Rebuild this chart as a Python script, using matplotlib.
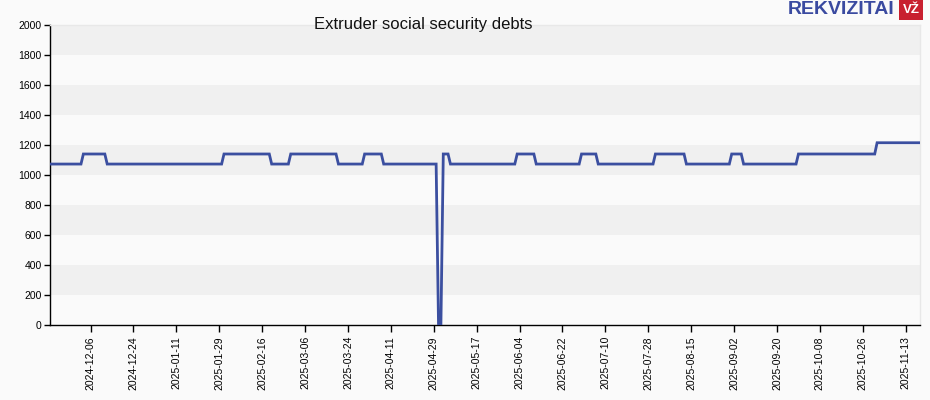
import pandas as pd
import matplotlib
matplotlib.use("Agg")
from matplotlib import pyplot as plt
import matplotlib.dates as mdates

plt.rcParams['font.family'] = ['Liberation Sans', 'DejaVu Sans']

# change points: value holds from this date until the next one
change_dates = ["2024-11-19", "2024-12-03", "2024-12-13", "2025-01-31", "2025-02-20",
                "2025-02-28", "2025-03-20", "2025-03-31", "2025-04-08", "2025-05-01",
                "2025-05-03", "2025-05-06", "2025-06-03", "2025-06-11", "2025-06-30",
                "2025-07-07", "2025-07-31", "2025-08-13", "2025-09-01", "2025-09-06",
                "2025-09-29", "2025-11-01"]
change_values = [1073, 1140, 1073, 1140, 1073,
                 1140, 1073, 1140, 1073, 0,
                 1140, 1073, 1140, 1073, 1140,
                 1073, 1140, 1073, 1140, 1073,
                 1140, 1215]
end_date = "2025-11-19"

tick_dates = ["2024-12-06", "2024-12-24", "2025-01-11", "2025-01-29", "2025-02-16",
              "2025-03-06", "2025-03-24", "2025-04-11", "2025-04-29", "2025-05-17",
              "2025-06-04", "2025-06-22", "2025-07-10", "2025-07-28", "2025-08-15",
              "2025-09-02", "2025-09-20", "2025-10-08", "2025-10-26", "2025-11-13"]

# each level is held until the day before the next change, so steps slope over one day
starts = pd.to_datetime(change_dates)
ends = list(starts[1:] - pd.Timedelta(days=1)) + [pd.Timestamp(end_date)]
xs, ys = [], []
for s, e, v in zip(starts, ends, change_values):
    xs += [s, e]
    ys += [v, v]

fig = plt.figure(figsize=(9.3, 4.0), dpi=100, facecolor="#fafafa")
ax = fig.add_axes([50 / 930, 75 / 400, 870 / 930, 300 / 400])
ax.set_facecolor("#fafafa")

for lo in range(200, 2000, 400):
    ax.axhspan(lo, lo + 200, color="#f0f0f0", lw=0, zorder=0)

ax.plot(xs, ys, color="#3b4fa0", lw=2.0, solid_joinstyle="miter", zorder=3)

ax.set_xlim(pd.Timestamp("2024-11-19"), pd.Timestamp(end_date))
ax.set_ylim(0, 2000)
ax.set_yticks(range(0, 2001, 200))
ax.set_xticks(pd.to_datetime(tick_dates))
ax.xaxis.set_major_formatter(mdates.DateFormatter("%Y-%m-%d"))
ax.tick_params(axis="x", labelrotation=90, labelsize=7.5, length=5, width=1, pad=3)
ax.tick_params(axis="y", labelsize=7.5, length=4, width=1, pad=2)

for side in ("top", "right"):
    ax.spines[side].set_color("#e8e8e8")
    ax.spines[side].set_linewidth(1)
for side in ("left", "bottom"):
    ax.spines[side].set_color("black")
    ax.spines[side].set_linewidth(1)

fig.text(423 / 930, 1 - 24 / 400, "Extruder social security debts",
         ha="center", va="center", fontsize=12, color="#111111")

# logo
fig.text(894 / 930, 1 - 10 / 400, "REKVIZITAI", ha="right", va="center",
         fontsize=14, fontweight="bold", color="#3a4aa0")
fig.text(911 / 930, 1 - 10 / 400, "VŽ", ha="center", va="center", fontsize=9.5,
         fontweight="bold", color="white",
         bbox=dict(boxstyle="square,pad=0.3", fc="#c8202f", ec="none"))

fig.savefig("out.png", dpi=100, facecolor=fig.get_facecolor())
